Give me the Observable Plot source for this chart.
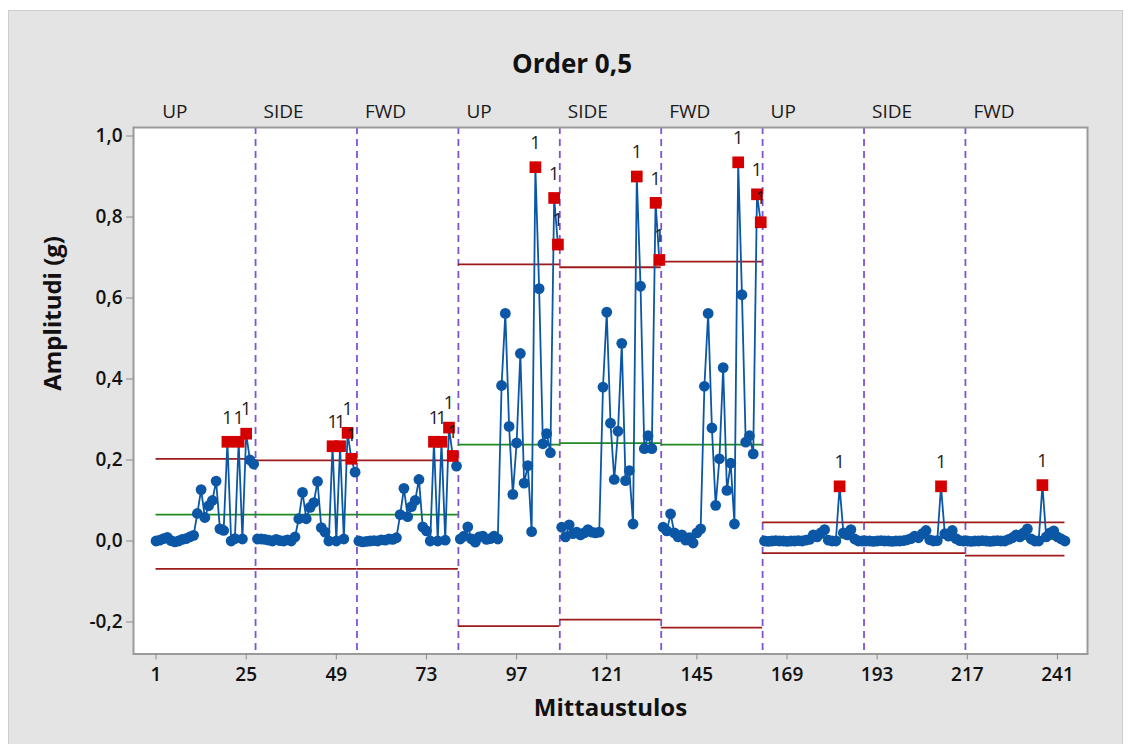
<!DOCTYPE html>
<html>
<head>
<meta charset="utf-8">
<script src="https://cdn.jsdelivr.net/npm/d3@7"></script>
<script src="https://cdn.jsdelivr.net/npm/@observablehq/plot@0.6"></script>
<style>
  html, body { margin: 0; padding: 0; background: #ffffff; width: 1129px; height: 744px; overflow: hidden; }
  #panel { position: absolute; left: 8px; top: 10px; width: 1113px; height: 740px; background: #e4e4e4; border: 1px solid #cdcdcd; }
  #chart { position: absolute; left: 0; top: 0; }
  #title { position: absolute; left: 172px; width: 800px; top: 47px; line-height: 32px; text-align: center;
           font-family: "Open Sans", sans-serif; font-weight: 700; font-size: 26px; color: #111; }
</style>
</head>
<body>
<div id="panel"></div>
<div id="chart"></div>
<div id="title">Order 0,5</div>
<script>
// I-chart of vibration amplitude (order 0.5), nine stages of 27 measurements each
const stageNames = ["UP", "SIDE", "FWD", "UP", "SIDE", "FWD", "UP", "SIDE", "FWD"];
const perStage = 27;

const amp1 = [0.000, 0.002, 0.006, 0.009, 0.001, -0.002, 0.000, 0.004, 0.006, 0.010, 0.014, 0.068, 0.127, 0.058, 0.087, 0.100, 0.148, 0.030, 0.026, 0.245, 0.000, 0.006, 0.245, 0.005, 0.265, 0.200, 0.190];
const amp2 = [0.005, 0.005, 0.004, 0.002, 0.000, 0.004, 0.001, 0.000, 0.003, 0.000, 0.010, 0.055, 0.120, 0.055, 0.083, 0.095, 0.147, 0.033, 0.022, 0.000, 0.234, 0.000, 0.234, 0.005, 0.267, 0.203, 0.170];
const amp3 = [0.000, -0.002, -0.001, 0.000, 0.001, 0.000, 0.003, 0.002, 0.005, 0.004, 0.008, 0.065, 0.130, 0.060, 0.085, 0.100, 0.152, 0.035, 0.025, 0.000, 0.245, 0.000, 0.245, 0.002, 0.280, 0.210, 0.185];
const amp4 = [0.005, 0.012, 0.035, 0.005, -0.003, 0.010, 0.012, 0.004, 0.006, 0.012, 0.005, 0.384, 0.562, 0.283, 0.115, 0.242, 0.463, 0.143, 0.186, 0.023, 0.923, 0.623, 0.240, 0.265, 0.218, 0.847, 0.732];
const amp5 = [0.034, 0.010, 0.040, 0.018, 0.022, 0.015, 0.020, 0.028, 0.022, 0.020, 0.022, 0.380, 0.565, 0.291, 0.152, 0.271, 0.488, 0.149, 0.174, 0.042, 0.900, 0.629, 0.228, 0.260, 0.228, 0.835, 0.694];
const amp6 = [0.034, 0.025, 0.067, 0.020, 0.010, 0.015, 0.002, 0.008, -0.005, 0.020, 0.030, 0.382, 0.562, 0.279, 0.088, 0.203, 0.428, 0.125, 0.192, 0.042, 0.935, 0.608, 0.244, 0.260, 0.215, 0.856, 0.787];
const amp7 = [0.000, -0.001, 0.000, 0.001, 0.000, 0.000, -0.001, 0.000, 0.000, 0.001, 0.000, 0.002, 0.004, 0.015, 0.010, 0.020, 0.028, 0.002, 0.000, 0.000, 0.135, 0.020, 0.015, 0.028, 0.005, 0.000, 0.000];
const amp8 = [0.000, 0.000, -0.001, 0.000, 0.001, 0.000, 0.000, -0.001, 0.000, 0.000, 0.001, 0.003, 0.006, 0.012, 0.008, 0.018, 0.026, 0.003, 0.000, 0.001, 0.135, 0.018, 0.012, 0.026, 0.006, 0.001, 0.000];
const amp9 = [0.000, -0.001, 0.000, 0.000, 0.001, 0.000, -0.001, 0.000, 0.001, 0.000, 0.000, 0.004, 0.008, 0.015, 0.010, 0.020, 0.030, 0.005, 0.000, 0.000, 0.138, 0.010, 0.020, 0.025, 0.010, 0.005, 0.000];

// control limits per stage
const ucl    = [0.203, 0.199, 0.199, 0.683, 0.676, 0.690, 0.046, 0.046, 0.046];
const center = [0.065, 0.065, 0.065, 0.238, 0.2415, 0.238, 0.008, 0.008, 0.005];
const lcl    = [-0.069, -0.069, -0.069, -0.210, -0.194, -0.214, -0.030, -0.030, -0.036];

const xTicks = [1, 25, 49, 73, 97, 121, 145, 169, 193, 217, 241];
const yTicks = [-0.2, 0, 0.2, 0.4, 0.6, 0.8, 1.0];

const groups = [amp1, amp2, amp3, amp4, amp5, amp6, amp7, amp8, amp9];
const rows = [];
groups.forEach((vals, s) => vals.forEach((v, k) => {
  rows.push({i: s * perStage + k + 1, v, stage: s, out: v > ucl[s] || v < lcl[s]});
}));
const nTotal = rows.length;

const stages = stageNames.map((name, s) => ({
  name, s,
  start: s * perStage + 1,
  end: (s + 1) * perStage
}));
const limitRows = [];
stages.forEach(st => {
  const x1 = Math.max(1, st.start - 0.5), x2 = Math.min(nTotal, st.end + 0.5);
  limitRows.push({x1, x2, y: ucl[st.s], kind: "limit"});
  limitRows.push({x1, x2, y: lcl[st.s], kind: "limit"});
  limitRows.push({x1, x2, y: center[st.s], kind: "center"});
});
const boundaries = stages.slice(1).map(st => st.start - 0.5);

const blue = "#0b57a6", red = "#d40000", darkRed = "#9e1b1b", green = "#1f8a1f", violet = "#8052d4";
const fmt = d => d3.format(".1f")(d).replace(".", ",").replace("\u2212", "-");

const chart = Plot.plot({
  width: 1129,
  height: 744,
  marginLeft: 133,
  marginRight: 42,
  marginTop: 127,
  marginBottom: 90.5,
  x: {domain: [-5, 249]},
  y: {domain: [-0.279, 1.021]},
  style: {fontFamily: "'Open Sans', sans-serif", fontSize: "19px", color: "#111", background: "transparent", overflow: "visible"},
  marks: [
    Plot.frame({fill: "white"}),
    Plot.ruleX(boundaries, {stroke: violet, strokeWidth: 1.8, strokeDasharray: "7,5"}),
    Plot.ruleY(limitRows.filter(d => d.kind === "limit"), {y: "y", x1: "x1", x2: "x2", stroke: darkRed, strokeWidth: 1.8}),
    Plot.ruleY(limitRows.filter(d => d.kind === "center"), {y: "y", x1: "x1", x2: "x2", stroke: green, strokeWidth: 1.8}),
    Plot.line(rows, {x: "i", y: "v", z: "stage", stroke: blue, strokeWidth: 1.8}),
    Plot.dot(rows.filter(d => !d.out), {x: "i", y: "v", r: 5.4, fill: blue, stroke: null}),
    Plot.dot(rows.filter(d => d.out), {x: "i", y: "v", r: 6.6, symbol: "square", fill: red, stroke: null}),
    Plot.text(rows.filter(d => d.out), {x: "i", y: "v", text: () => "1", dy: -24, fontSize: 18, fill: "#1a1a1a"}),
    Plot.text(stages, {x: d => d.start - 0.5, text: "name", frameAnchor: "top", textAnchor: "start", lineAnchor: "middle", dx: 8, dy: -16, fontSize: 19, fill: "#1a1a1a"}),
    Plot.frame({stroke: "#9a9a9a", strokeWidth: 2}),
    Plot.axisX({ticks: xTicks, tickSize: 6, tickPadding: 7, stroke: "#8a8a8a", fill: "#111", fontSize: 19, fontWeight: 600, label: null}),
    Plot.axisY({ticks: yTicks, tickFormat: fmt, tickSize: 7, tickPadding: 4, stroke: "#8a8a8a", fill: "#111", fontSize: 19, fontWeight: 600, label: null}),
    Plot.text(["Mittaustulos"], {frameAnchor: "bottom", dy: 54, lineAnchor: "middle", fontSize: 24, fontWeight: 700, fill: "#111"}),
    Plot.text(["Amplitudi (g)"], {frameAnchor: "left", dx: -80, rotate: -90, lineAnchor: "middle", fontSize: 24, fontWeight: 700, fill: "#111"})
  ]
});
document.getElementById("chart").appendChild(chart);
</script>
</body>
</html>
